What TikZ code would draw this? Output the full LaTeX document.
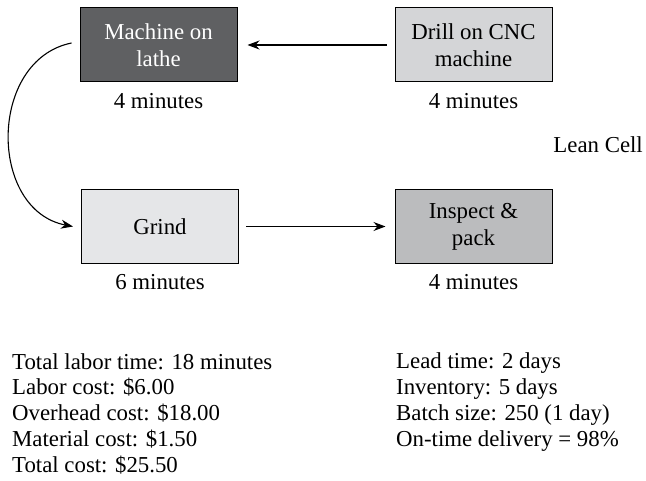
\documentclass[tikz,border=0pt]{standalone}
\usepackage{fontspec}
\setmainfont{Liberation Serif}
\usetikzlibrary{arrows.meta}
\definecolor{darkbox}{HTML}{5F6062}
\definecolor{drillbox}{HTML}{D4D5D7}
\definecolor{grindbox}{HTML}{E5E6E8}
\definecolor{packbox}{HTML}{BBBCBE}
\tikzset{
    stepbox/.style={draw, line width=1pt, minimum width=157bp, minimum height=74bp,
      align=center, inner sep=0pt, font=\fontsize{22.9}{27}\selectfont},
    timelbl/.style={font=\fontsize{22.9}{25.8}\selectfont, inner sep=0pt},
    flow/.style={-{Stealth[length=12bp,width=9bp]}, line width=1.1bp},
  }
\begin{document}
\begin{tikzpicture}[x=1bp,y=-1bp]
  \useasboundingbox (0,0) rectangle (646,481);
  % boxes
  \node[stepbox, fill=darkbox, text=white] (lathe) at (158.5,45) {Machine on\\lathe};
  \node[stepbox, fill=drillbox] (drill) at (473.5,45) {Drill on CNC\\machine};
  \node[stepbox, fill=grindbox] (grind) at (160,226.5) {Grind};
  \node[stepbox, fill=packbox] (pack) at (473.5,226.5) {Inspect \&\\pack};
  % times
  \node[timelbl, anchor=base] (tlathe) at ([yshift=-26bp]lathe.south) {4 minutes};
  \node[timelbl, anchor=base] (tdrill) at ([yshift=-26bp]drill.south) {4 minutes};
  \node[timelbl, anchor=base] (tgrind) at ([yshift=-26bp]grind.south) {6 minutes};
  \node[timelbl, anchor=base] (tpack) at ([yshift=-26bp]pack.south) {4 minutes};
  \node[timelbl, anchor=base east] (cell) at (643,153) {Lean Cell};
  % flow
  \draw[flow] ([xshift=-8bp]drill.west) -- ([xshift=10bp]lathe.east);
  \draw[flow] ([xshift=7bp]grind.east) -- ([xshift=-9bp]pack.west);
  \draw[flow] ([xshift=-8bp,yshift=2bp]lathe.west) .. controls (-12,60) and (-12,210) .. ([xshift=-8bp]grind.west);
  % figures (base = last line)
  \node[timelbl, anchor=base west, align=left] (costs) at (12,472)
    {Total labor time: 18 minutes\\Labor cost: \$6.00\\Overhead cost: \$18.00\\Material cost: \$1.50\\Total cost: \$25.50};
  \node[timelbl, anchor=base west, align=left] (lead) at (396,446)
    {Lead time: 2 days\\Inventory: 5 days\\Batch size: 250 (1 day)\\On-time delivery = 98\%};
\end{tikzpicture}
\end{document}
